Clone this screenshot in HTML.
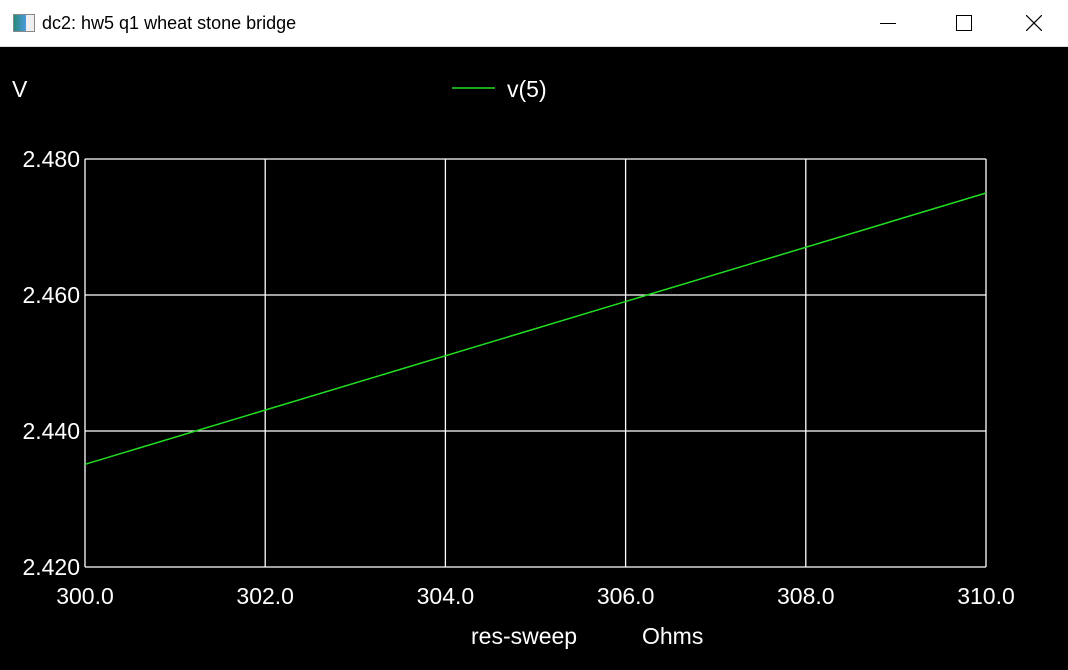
<!DOCTYPE html>
<html><head><meta charset="utf-8"><style>
html,body{margin:0;padding:0;width:1068px;height:670px;overflow:hidden;background:#000;font-family:"Liberation Sans",sans-serif}
#titlebar{position:absolute;left:0;top:0;width:1068px;height:47px;background:#fff;border-bottom:1px solid #ddd;box-sizing:border-box}
#ttl{position:absolute;left:42px;top:13px;font-size:18px;color:#000}
#chart{position:absolute;left:0;top:47px}
</style></head><body>
<div id="titlebar">
<div style="position:absolute;left:13px;top:14px;width:20px;height:16px;border:1px solid #888;background:linear-gradient(90deg,#2a8a7a,#4a9adf 60%,#eee 60%)"></div>
<div id="ttl">dc2: hw5 q1 wheat stone bridge</div>
<div style="position:absolute;left:880px;top:23px;width:16px;height:1px;background:#000"></div>
<div style="position:absolute;left:956px;top:15px;width:14px;height:14px;border:1px solid #000"></div>
<svg style="position:absolute;left:1026px;top:15px" width="16" height="16"><line x1="0" y1="0" x2="16" y2="16" stroke="#000" stroke-width="1.2"/><line x1="16" y1="0" x2="0" y2="16" stroke="#000" stroke-width="1.2"/></svg>
</div>
<svg id="chart" width="1068" height="623"></svg>
<script>
const xTicks=[300,302,304,306,308,310];
const yTicks=[2.42,2.44,2.46,2.48];
const xVals=[300,310];
const yVals=[2.4351,2.475];
const X0=85,X1=986,Y0=520,Y1=112;
const sx=v=>X0+(v-300)/10*(X1-X0);
const sy=v=>Y0-(v-2.42)/0.06*(Y0-Y1);
const svg=document.getElementById('chart');
const NS='http://www.w3.org/2000/svg';
function mk(t,a){const e=document.createElementNS(NS,t);for(const k in a)e.setAttribute(k,a[k]);svg.appendChild(e);return e;}
function txt(x,y,s,anchor){const e=mk('text',{x:x,y:y,fill:'#fff','font-size':23,'text-anchor':anchor,'font-family':'Liberation Sans, sans-serif'});e.textContent=s;return e;}
xTicks.forEach(v=>{const l=mk('line',{x1:sx(v),x2:sx(v),y1:Y1,y2:Y0,stroke:'#fff','stroke-width':1.3});


const t=txt(sx(v),557,v.toFixed(1),'middle');

});
yTicks.forEach(v=>{const l=mk('line',{x1:X0,x2:X1,y1:sy(v),y2:sy(v),stroke:'#fff','stroke-width':1.3});


const t=txt(80,sy(v)+8,v.toFixed(3),'end');

});
const pl=mk('polyline',{points:xVals.map((x,i)=>sx(x)+','+sy(yVals[i])).join(' '),fill:'none',stroke:'#22dd22','stroke-width':1.5});


const yl=txt(12,50,'V','start');


const lg=mk('line',{x1:452,x2:495,y1:41,y2:41,stroke:'#22dd22','stroke-width':1.5});


const lt=txt(507,50,'v(5)','start');


const xa=txt(471,597,'res-sweep','start');


const xu=txt(642,597,'Ohms','start');


</script>
</body></html>
